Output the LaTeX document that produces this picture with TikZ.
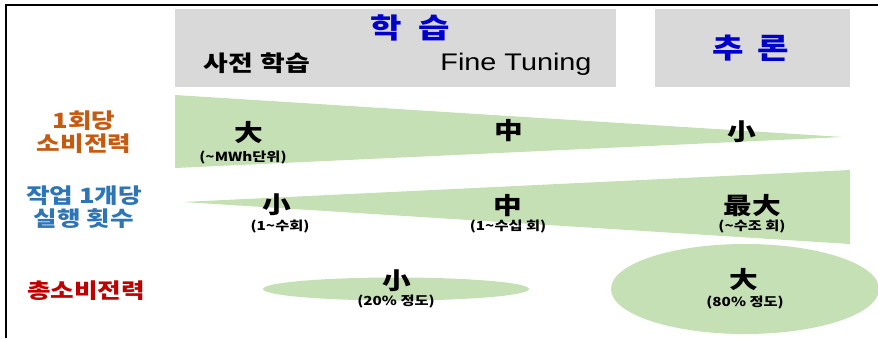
\documentclass[tikz,border=0pt]{standalone}
\usepackage{fontspec}
\setmainfont{Noto Sans CJK KR}[FakeStretch=1.22]
\newfontfamily\latinfont{Liberation Sans}[FakeStretch=1.2]
\usetikzlibrary{shapes.geometric}
\definecolor{boxgray}{HTML}{D9D9D9}
\definecolor{lgreen}{HTML}{C5E0B4}
\definecolor{titleblue}{HTML}{0000CC}
\definecolor{lorange}{HTML}{C55A11}
\definecolor{lblue}{HTML}{2E75B6}
\definecolor{lred}{HTML}{C00000}
\tikzset{
  graybox/.style={fill=boxgray, draw=none, inner sep=0pt},
  title/.style={font=\fontsize{28}{30}\selectfont\bfseries, text=titleblue, inner sep=0pt},
  sub/.style={font=\fontsize{22}{24}\selectfont\bfseries, inner sep=0pt},
  rowlabel/.style={font=\fontsize{21}{23}\selectfont\bfseries, align=center, inner sep=0pt},
  big/.style={font=\fontsize{23.5}{24}\selectfont\bfseries, inner sep=0pt, text height=0.8em, text depth=0pt},
  small/.style={font=\fontsize{12.5}{14}\selectfont\bfseries, inner sep=0pt, text height=0.75em, text depth=0.1em},
  greenfill/.style={fill=lgreen, draw=none},
  blob/.style={ellipse, fill=lgreen, draw=none, inner sep=0pt}
}
\begin{document}
\begin{tikzpicture}[x=1pt,y=-1pt]
\useasboundingbox (0,0) rectangle (878,338);
% frame
\coordinate (fbl) at (6,338);
\coordinate (ftl) at (6,5);
\coordinate (ftr) at (878,5);
\draw[line width=1.3pt] (fbl) -- (ftl) -- (ftr);
% header boxes
\node[graybox, minimum width=441pt, minimum height=78pt] (learn) at (395.5,48) {};
\node[graybox, minimum width=195pt, minimum height=78pt] (infer) at (752.5,48) {};
\node[title] (learnT) at (410,28) {학\hspace{0.6em}습};
\node[sub] (pre) at (257,63) {사전\hspace{0.35em}학습};
\node[inner sep=0pt, font=\latinfont\fontsize{24}{26}\selectfont] (ft) at (516,64) {Fine Tuning};
\node[title] (inferT) at (751,48) {추\hspace{0.5em}론};
% row labels
\node[rowlabel, text=lorange] (r1) at (84,132) {1회당\\소비전력};
\node[rowlabel, text=lblue] (r2) at (84,207) {작업 1개당\\실행 횟수};
\node[rowlabel, text=lred] (r3) at (86,291) {총소비전력};
% row 1 wedge
\coordinate (w1a) at (175,95);
\coordinate (w1b) at (175,168);
\coordinate (w1c) at (843,137);
\fill[greenfill] (w1a) -- (w1c) -- (w1b) -- cycle;
\node[big] (a1) at (249,137) {大};
\node[small] (a1s) at (243,158) {(\textasciitilde MWh단위)};
\node[big] (b1) at (509,135) {中};
\node[big] (c1) at (742,136) {小};
% row 2 wedge
\coordinate (w2a) at (183,202);
\coordinate (w2b) at (850,170);
\coordinate (w2c) at (850,244);
\fill[greenfill] (w2a) -- (w2b) -- (w2c) -- cycle;
\node[big] (a2) at (277,209) {小};
\node[small] (a2s) at (280,227) {(1\textasciitilde 수회)};
\node[big] (b2) at (508,210) {中};
\node[small] (b2s) at (508,227) {(1\textasciitilde 수십 회)};
\node[big] (c2) at (752,210) {最大};
\node[small] (c2s) at (752,227) {(\textasciitilde 수조 회)};
% row 3 blobs
\node[blob, minimum width=266pt, minimum height=23pt] (e1) at (396,289) {};
\node[blob, minimum width=268pt, minimum height=90pt] (e2) at (745,289) {};
\node[big] (a3) at (397,285) {小};
\node[small] (a3s) at (396,302) {(20\% 정도)};
\node[big] (b3) at (744,284) {大};
\node[small] (b3s) at (745,303) {(80\% 정도)};
\end{tikzpicture}
\end{document}
